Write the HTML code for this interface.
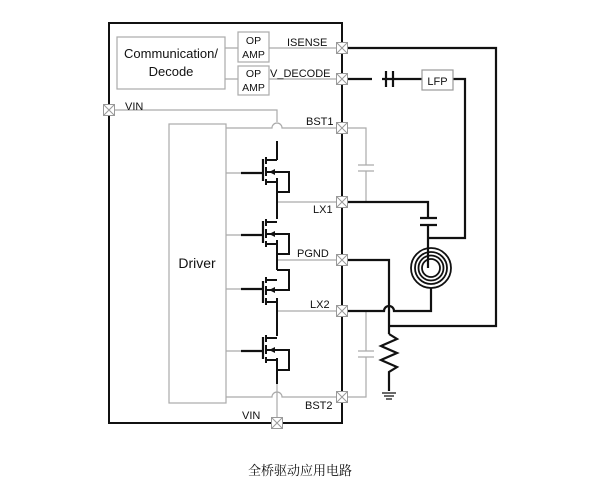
<!DOCTYPE html>
<html><head><meta charset="utf-8"><style>
html,body{margin:0;padding:0;background:#fff;}
svg{display:block;}
text{font-family:"Liberation Sans",sans-serif;fill:#111;}
</style></head><body>
<svg width="600" height="500" viewBox="0 0 600 500" xmlns="http://www.w3.org/2000/svg">
<defs>
<g id="pin"><rect x="-5.5" y="-5.5" width="11" height="11" fill="#fff" stroke="#999" stroke-width="1"/><path d="M-5.5,-5.5L5.5,5.5M5.5,-5.5L-5.5,5.5" stroke="#999" stroke-width="1"/></g>
<g id="fet" fill="none">
<path d="M-22,0H0M0,-14V8" stroke="#111" stroke-width="2.2"/>
<path d="M3,-16V-9M3,-6V3M3,6V12" stroke="#111" stroke-width="2"/>
<path d="M3,-13H14M3,-1H26V19H14M3,9H14" stroke="#111" stroke-width="2"/>
<polygon points="6,-1 12,-4 12,2" fill="#111"/>
</g>
</defs>
<rect x="109" y="23" width="233" height="400" fill="none" stroke="#111" stroke-width="2"/>
<g stroke="#aaa" stroke-width="1.2" fill="none">
<rect x="117" y="37" width="108" height="52"/>
<rect x="238" y="32" width="31" height="30"/>
<rect x="238" y="66" width="31" height="29"/>
<path d="M225,48H238M269,48H337M225,79H238M269,79H337"/>
<path d="M114,110H277V122"/>
<rect x="169" y="124" width="57" height="279"/>
<path d="M226,128H272A5,5 0 0 1 282,128H337"/>
<path d="M226,173H241M226,235H241M226,289H241M226,351H241"/>
<path d="M278,202H337M278,260H337M278,311H337"/>
<path d="M226,397H272A5,5 0 0 1 282,397H337"/>
<path d="M277,384V418"/>
<path d="M347,128H366V165M366,171V202M358,165H374M358,171H374"/>
<path d="M347,397H366V357M366,351V311M358,357H374M358,351H374"/>
</g>
<g stroke="#111" stroke-width="2" fill="none">
<path d="M277,141V160M277,178V202M277,202V219M277,240V270M277,298V336M277,358V384"/>
</g>
<use href="#fet" x="263" y="173"/>
<use href="#fet" x="263" y="235"/>
<g transform="translate(263,289) scale(1,-1)"><use href="#fet"/></g>
<use href="#fet" x="263" y="351"/>
<g stroke="#111" stroke-width="2.2" fill="none">
<path d="M347,48H496V326H389"/>
<path d="M347,79H372M382,79H422"/>
<path d="M386,71V87M393,71V87"/>
<path d="M453,79H465V238H428"/>
<path d="M347,202H428V218M428,225V268"/>
<path d="M420,218H437M420,225H437"/>
<path d="M431,288V311H394A5,5 0 0 0 384,311H347"/>
<path d="M347,260H389V334"/>
<path d="M389,334L397,339L381,346L397,353L381,360L397,367L389,372V391"/>
<path d="M382,393H396M384,396H394M386,399H392" stroke-width="1.2"/>
</g>
<g stroke="#111" stroke-width="1.8" fill="none">
<circle cx="431" cy="268" r="20"/><circle cx="431" cy="268" r="16"/><circle cx="431" cy="268" r="12.5"/><circle cx="431" cy="268" r="9"/>
</g>
<rect x="422" y="70" width="31" height="20" fill="#fff" stroke="#999" stroke-width="1.2"/>
<text x="437.5" y="85" font-size="11" text-anchor="middle">LFP</text>
<use href="#pin" x="342" y="48"/><use href="#pin" x="342" y="79"/>
<use href="#pin" x="342" y="128"/><use href="#pin" x="342" y="202"/>
<use href="#pin" x="342" y="260"/><use href="#pin" x="342" y="311"/>
<use href="#pin" x="342" y="397"/><use href="#pin" x="109" y="110"/>
<use href="#pin" x="277" y="423"/>
<text x="171" y="58" font-size="13" text-anchor="middle">Communication/</text>
<text x="171" y="76" font-size="13" text-anchor="middle">Decode</text>
<text x="253.5" y="44" font-size="10.5" text-anchor="middle">OP</text>
<text x="253.5" y="58" font-size="10.5" text-anchor="middle">AMP</text>
<text x="253.5" y="77" font-size="10.5" text-anchor="middle">OP</text>
<text x="253.5" y="91" font-size="10.5" text-anchor="middle">AMP</text>
<text x="287" y="46" font-size="11">ISENSE</text>
<text x="270" y="77" font-size="11">V_DECODE</text>
<text x="125" y="110" font-size="11">VIN</text>
<text x="306" y="125" font-size="11">BST1</text>
<text x="313" y="213" font-size="11">LX1</text>
<text x="297" y="257" font-size="11">PGND</text>
<text x="310" y="308" font-size="11">LX2</text>
<text x="305" y="409" font-size="11">BST2</text>
<text x="242" y="419" font-size="11">VIN</text>
<text x="197" y="268" font-size="14" text-anchor="middle">Driver</text>
<text x="300" y="475" font-size="13" text-anchor="middle" style="font-family:'Liberation Serif','Noto Serif CJK SC',serif">全桥驱动应用电路</text>
</svg>
</body></html>
